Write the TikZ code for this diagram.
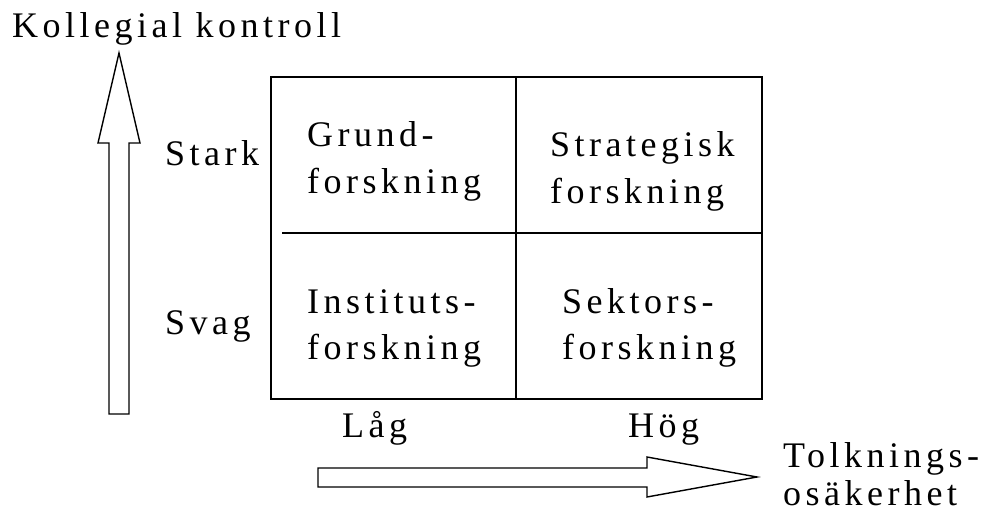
\documentclass[tikz,border=0pt]{standalone}
\usepackage{fontspec}
\setmainfont{Liberation Serif}[LetterSpace=12.5]
\begin{document}
\begin{tikzpicture}[x=1pt,y=-1pt,
  lbl/.style={anchor=base west,inner sep=0pt,font=\fontsize{36}{46}\selectfont},
  frame/.style={draw=black,line width=1.4pt},
  fatarrow/.style={draw=black,line width=1.4pt,fill=white,line join=miter}]
\useasboundingbox (0,0) rectangle (989,517);
% matrix box
\draw[frame] (271,77) rectangle (762,399);
\draw[frame] (516,77) -- (516,399);
\draw[frame] (282,233) -- (762,233);
% vertical arrow
\draw[fatarrow] (109,414) -- (109,143) -- (98,143) -- (119,53) -- (140,143) -- (129,143) -- (129,414) -- cycle;
% horizontal arrow
\draw[fatarrow] (318,468) -- (647,468) -- (647,457) -- (757,477) -- (647,497) -- (647,487) -- (318,487) -- cycle;
% labels
\node[lbl] (kk) at (12,37) {Kollegial kontroll};
\node[lbl] (stark) at (165,165) {Stark};
\node[lbl] (svag) at (165,334) {Svag};
\node[lbl] (g1) at (307,146) {Grund-};
\node[lbl] (g2) at (307,193) {forskning};
\node[lbl] (s1) at (550,156) {Strategisk};
\node[lbl] (s2) at (550,203) {forskning};
\node[lbl] (i1) at (307,313) {Instituts-};
\node[lbl] (i2) at (307,359) {forskning};
\node[lbl] (k1) at (562,313) {Sektors-};
\node[lbl] (k2) at (562,359) {forskning};
\node[lbl] (lag) at (342,437) {Låg};
\node[lbl] (hog) at (628,437) {Hög};
\node[lbl] (t1) at (783,467) {Tolknings-};
\node[lbl] (t2) at (783,505) {osäkerhet};
\end{tikzpicture}
\end{document}
